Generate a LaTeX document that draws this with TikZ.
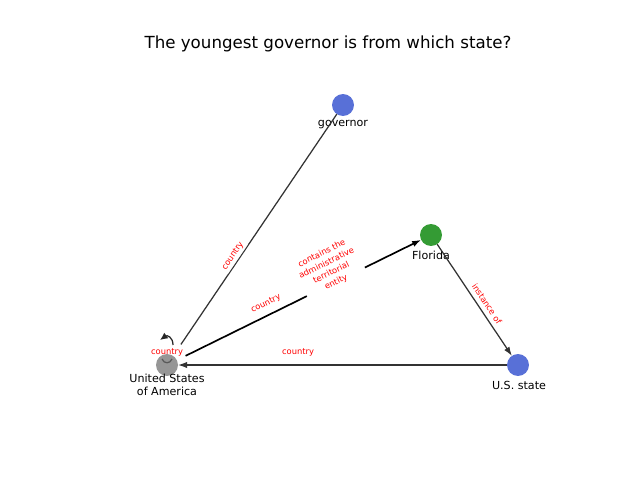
\documentclass[tikz,border=0pt]{standalone}
\usepackage{fontspec}
\setmainfont{DejaVu Sans}
\usetikzlibrary{arrows.meta}
\definecolor{nblue}{RGB}{88,112,215}
\definecolor{ngreen}{RGB}{52,155,52}
\definecolor{ngray}{RGB}{150,150,150}
\definecolor{ered}{RGB}{255,0,0}
\begin{document}
\begin{tikzpicture}[x=0.72pt,y=-0.72pt,
  vert/.style={circle,inner sep=0pt,minimum size=15.8pt,outer sep=0pt},
  vlabel/.style={font=\fontsize{8}{9.5}\selectfont,align=center,inner sep=0pt},
  elabel/.style={font=\fontsize{6}{7.7}\selectfont,text=ered,align=center,inner sep=1.5pt},
  edge/.style={draw=black!80,line width=0.9pt},
  arr/.style={-{Latex[length=6.5pt,width=4.5pt]}}]
\useasboundingbox (0,0) rectangle (640,480);
\node[font=\fontsize{12}{14}\selectfont] (title) at (328,44) {The youngest governor is from which state?};
% vertices
\node[vert,fill=nblue] (gov) at (343,105) {};
\node[vert,fill=ngreen] (fl) at (431,235) {};
\node[vert,fill=nblue] (uss) at (518,365) {};
\node[vert,fill=ngray] (usa) at (167,365) {};
\node[vlabel] (govl) at (343,125) {governor};
\node[vlabel] (fll) at (431,255) {Florida};
\node[vlabel] (ussl) at (519,385) {U.S. state};
\node[vlabel] (usal) at (167,385) {United States\\of America};
% edges
\draw[edge,shorten >=10pt] (gov) -- (usa);
\draw[edge,arr,line width=1.2pt,draw=black,shorten <=7pt] (usa) -- (fl);
\draw[edge,arr] (uss) -- (usa);
\draw[edge,arr] (fl) -- (uss);
% self loop
\coordinate (ls) at (173,345);
\coordinate (le) at (160,340);
\draw[draw=black!85,line width=0.9pt,-{Latex[length=5.5pt,width=5pt]}] (ls) .. controls (173,337) and (167,335) .. (le);
\draw[draw=black!65,line width=0.9pt] (162,359) .. controls (164,364) and (170,364) .. (172,359);
% edge labels
\node[elabel,fill=white,fill opacity=0.75,text opacity=1,rotate=55.9] (l1) at (233,256) {country};
\node[elabel,fill=white,rotate=26.3] (l2) at (329,268) {contains the\\administrative\\territorial\\entity};
\node[elabel,rotate=26.3] (l3) at (266,304) {country};
\node[elabel] (l4) at (298,352) {country};
\node[elabel,fill=white,fill opacity=0.75,text opacity=1,rotate=-56.2] (l5) at (487,304) {instance of};
\node[elabel] (l6) at (167,352) {country};
\end{tikzpicture}
\end{document}
